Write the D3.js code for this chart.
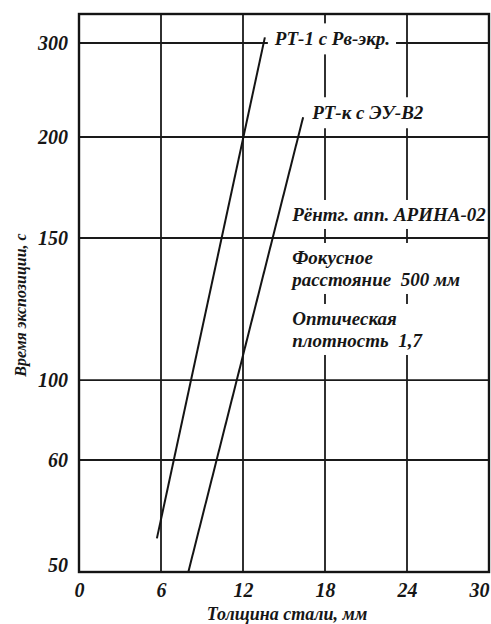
<!DOCTYPE html>
<meta charset="utf-8">
<style>
body { margin: 0; background: #fff; }
text { font-family: "Liberation Serif", "Times New Roman", serif; font-weight: bold; font-style: italic; fill: #161616; }
.grid line { stroke: #1a1a1a; stroke-width: 1.8px; }
.frame { fill: none; stroke: #141414; stroke-width: 2.4px; }
.series { fill: none; stroke: #141414; stroke-width: 2px; }
</style>
<body>
<script src="https://d3js.org/d3.v7.min.js"></script>
<script>
// data
var xTicks = [0, 6, 12, 18, 24, 30];
var yTicks = [50, 60, 100, 150, 200, 300];
var seriesNames = ["РТ-1 с Рв-экр.", "РТ-к с ЭУ-В2"];
var rt1Thickness = [5.7, 13.6], rt1Time = [53, 306];
var rtkThickness = [8.0, 16.4], rtkTime = [50, 221];
var noteLines = [["Рёнтг. апп. АРИНА-02"], ["Фокусное", "расстояние  500 мм"], ["Оптическая", "плотность  1,7"]];

var margin = {top: 14, right: 2, bottom: 52, left: 79},
    width = 491 - margin.left - margin.right,
    height = 624 - margin.top - margin.bottom;

// the printed y axis is not uniform: gridline heights as fraction of plot height
var yFrac = [0, 0.2007, 0.344, 0.5986, 0.7796, 0.948];

var x = d3.scaleLinear().domain([0, 30]).range([0, width]);
var y = d3.scaleLinear().domain(yTicks).range(yFrac.map(function(f) { return height * (1 - f); }));

var svg = d3.select("body").append("svg")
    .attr("width", 491)
    .attr("height", 624)
  .append("g")
    .attr("transform", "translate(" + margin.left + "," + margin.top + ")");

// grid
var grid = svg.append("g").attr("class", "grid");
grid.selectAll(".v").data(xTicks.slice(1, -1)).enter().append("line")
    .attr("x1", function(d) { return x(d); }).attr("x2", function(d) { return x(d); })
    .attr("y1", 0).attr("y2", height);
grid.selectAll(".h").data(yTicks.slice(1)).enter().append("line")
    .attr("x1", 0).attr("x2", width)
    .attr("y1", function(d) { return y(d); }).attr("y2", function(d) { return y(d); });

// series lines
var series = [
  {name: seriesNames[0], xs: rt1Thickness, ys: rt1Time},
  {name: seriesNames[1], xs: rtkThickness, ys: rtkTime}
];
var line = d3.line().x(function(d) { return x(d[0]); }).y(function(d) { return y(d[1]); });
svg.selectAll(".series").data(series).enter().append("path")
    .attr("class", "series")
    .attr("d", function(s) { return line(d3.zip(s.xs, s.ys)); });

// labels with white boxes hiding the grid behind them
function boxed(g, pad) {
  var b = g.node().getBBox();
  g.insert("rect", ":first-child")
    .attr("x", b.x - pad[0]).attr("y", b.y - pad[1])
    .attr("width", b.width + 2 * pad[0]).attr("height", b.height + 2 * pad[1])
    .attr("fill", "#fff");
}

series.forEach(function(s, i) {
  var n = s.xs.length - 1;
  var g = svg.append("g");
  g.append("text")
    .attr("x", x(s.xs[n]) + (i === 0 ? 10 : 9))
    .attr("y", y(s.ys[n]) + (i === 0 ? 8 : 2))
    .style("font-size", "19px")
    .text(s.name);
  boxed(g, [6, 5]);
});

var noteY = [y(150) - 17, y(150) + 26, y(150) + 87];
noteLines.forEach(function(block, i) {
  var g = svg.append("g");
  block.forEach(function(t, j) {
    g.append("text")
      .attr("x", x(15.6))
      .attr("y", noteY[i] + j * 22)
      .style("font-size", "19px")
      .style("white-space", "pre")
      .text(t);
  });
  boxed(g, [4, 4]);
});

// frame
svg.append("rect").attr("class", "frame").attr("width", width).attr("height", height);

// axes
var xAxis = svg.append("g")
    .attr("transform", "translate(0," + height + ")")
    .call(d3.axisBottom(x).tickValues(xTicks).tickSize(0).tickPadding(11));
xAxis.select(".domain").remove();
xAxis.selectAll("text").style("font-size", "20px").style("font-family", null)
    .attr("text-anchor", function(d) { return d === 30 ? "end" : "middle"; });

var yAxis = svg.append("g")
    .call(d3.axisLeft(y).tickValues(yTicks).tickSize(0).tickPadding(11));
yAxis.select(".domain").remove();
yAxis.selectAll("text").style("font-size", "20px").style("font-family", null)
    .attr("dy", function(d) { return d === 50 ? "-0.05em" : "0.32em"; });

// axis titles
svg.append("text")
    .attr("x", width / 2 + 3)
    .attr("y", height + 48)
    .attr("text-anchor", "middle")
    .style("font-size", "18px")
    .text("Толщина стали, мм");

svg.append("text")
    .attr("transform", "translate(" + (-53) + "," + (height / 2 + 12) + ") rotate(-90)")
    .attr("text-anchor", "middle")
    .style("font-size", "16px")
    .text("Время экспозиции, с");
</script>
</body>
